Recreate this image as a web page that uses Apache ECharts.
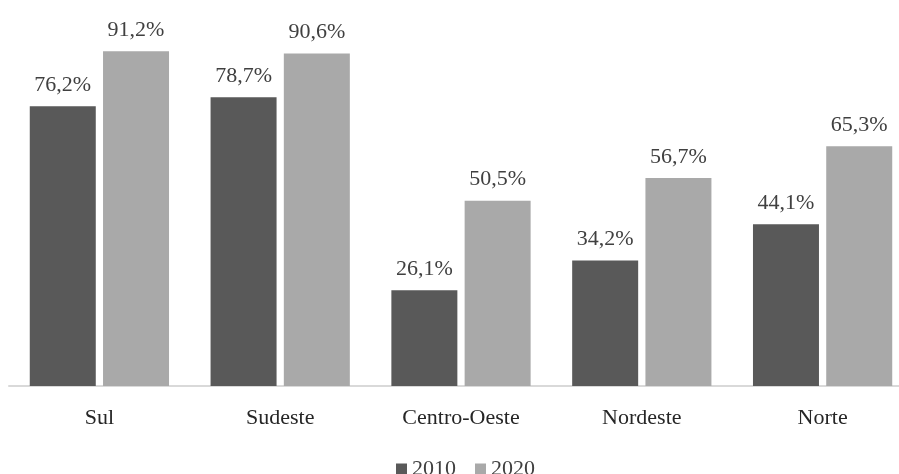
<!DOCTYPE html>
<html>
<head>
<meta charset="utf-8">
<style>
  html, body { margin: 0; padding: 0; background: #ffffff; }
  #chart { width: 899px; height: 474px; }
</style>
<script src="https://cdn.jsdelivr.net/npm/echarts@6/dist/echarts.min.js"></script>
</head>
<body>
<div id="chart"></div>
<script>
// Regions and share (%) for each census year
const regions = ['Sul', 'Sudeste', 'Centro-Oeste', 'Nordeste', 'Norte'];
const values2010 = [76.2, 78.7, 26.1, 34.2, 44.1];
const values2020 = [91.2, 90.6, 50.5, 56.7, 65.3];
const seriesNames = ['2010', '2020'];

const FONT = "'Liberation Serif', 'Times New Roman', serif";
const pct = v => v.toFixed(1).replace('.', ',') + '%';

const chart = echarts.init(document.getElementById('chart'), null, { renderer: 'canvas' });

const labelStyle = {
  show: true,
  position: 'top',
  distance: 10,
  fontFamily: FONT,
  fontSize: 22,
  color: '#404040',
  formatter: p => pct(p.value)
};

chart.setOption({
  animation: false,
  backgroundColor: '#ffffff',
  grid: {
    left: 9, width: 904, top: 19, bottom: 88,
    containLabel: false,
    outerBoundsMode: 'none'
  },
  legend: {
    data: seriesNames,
    top: 453,
    left: 391,
    itemWidth: 11,
    itemHeight: 11,
    itemGap: 19,
    icon: 'rect',
    textStyle: { fontFamily: FONT, fontSize: 22, color: '#404040' }
  },
  xAxis: {
    type: 'category',
    data: regions,
    axisLine: { lineStyle: { color: '#d9d9d9', width: 2 } },
    axisTick: { show: false },
    axisLabel: { fontFamily: FONT, fontSize: 22, color: '#262626', margin: 21 }
  },
  yAxis: {
    type: 'value',
    min: 0,
    max: 100,
    show: false,
    splitLine: { show: false }
  },
  series: [
    {
      name: seriesNames[0],
      type: 'bar',
      data: values2010,
      barWidth: 66,
      barGap: '11%',
      itemStyle: { color: '#595959' },
      label: labelStyle
    },
    {
      name: seriesNames[1],
      type: 'bar',
      data: values2020,
      barWidth: 66,
      itemStyle: { color: '#a9a9a9' },
      label: labelStyle
    }
  ]
});
</script>
</body>
</html>
